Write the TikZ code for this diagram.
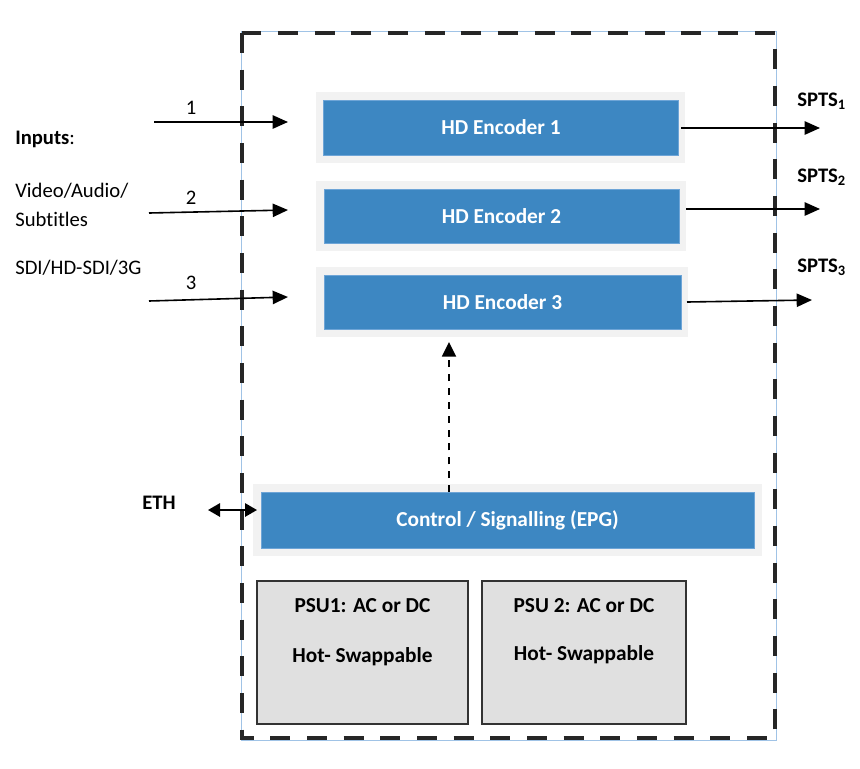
\documentclass[tikz,border=0pt]{standalone}
\usepackage{fontspec}
\setmainfont{Carlito}[Ligatures=NoCommon]
\usetikzlibrary{arrows.meta}
\definecolor{encblue}{RGB}{61,135,194}
\definecolor{encedge}{RGB}{110,165,215}
\definecolor{framegray}{RGB}{242,242,242}
\definecolor{psugray}{RGB}{224,224,224}
\definecolor{thinblue}{RGB}{160,195,230}
\begin{document}
\begin{tikzpicture}[x=0.75pt,y=-0.75pt,
  fnt/.style={font=\fontsize{15.5}{18}\selectfont},
  framebox/.style={fill=framegray,draw=none,inner sep=0pt},
  bluebox/.style={fill=encblue,draw=encedge,line width=0.6pt,inner sep=0pt,text=white,
     font=\fontsize{16}{19}\selectfont\bfseries},
  psubox/.style={fill=psugray,draw=black!80,line width=1.1pt,inner sep=0pt},
  psutxt/.style={font=\fontsize{16}{19}\selectfont\bfseries,inner sep=0pt},
  lbl/.style={fnt,inner sep=0pt},
  sarrow/.style={line width=1.2pt,-{Triangle[length=11.5pt,width=10pt]}},
  darrow/.style={line width=1.5pt,{Triangle[length=9pt,width=10pt]}-{Triangle[length=9pt,width=10pt]}},
  ctrlarrow/.style={line width=1.4pt,dash pattern=on 5.2pt off 5.2pt,-{Triangle[length=11pt,width=10.5pt]}},
  outerdash/.style={line width=3pt,dash pattern=on 15pt off 12.5pt,black!85},
]
\useasboundingbox (0,0) rectangle (860,768);
% enclosure
\draw[thinblue,line width=0.6pt] (241,31) rectangle (776,740);
\draw[outerdash] (242,33) rectangle (775,738);

% encoders
\node[framebox,minimum width=276.75pt,minimum height=53.25pt] (f1) at (500.5,127.5) {};
\node[bluebox,minimum width=266.25pt,minimum height=41.25pt] (e1) at (501,127.5) {HD Encoder 1};
\node[framebox,minimum width=277.5pt,minimum height=52.5pt] (f2) at (501,216) {};
\node[bluebox,minimum width=266.25pt,minimum height=40.5pt] (e2) at (501.5,216) {HD Encoder 2};
\node[framebox,minimum width=279pt,minimum height=52.5pt] (f3) at (502,302) {};
\node[bluebox,minimum width=267.75pt,minimum height=40.5pt] (e3) at (502.5,302) {HD Encoder 3};

% control
\node[framebox,minimum width=381.75pt,minimum height=54pt] (fc) at (507.5,520) {};
\node[bluebox,minimum width=369.75pt,minimum height=42pt] (ctrl) at (507.5,520) {Control / Signalling (EPG)};

% PSUs
\node[psubox,minimum width=158.25pt,minimum height=107.25pt] (psu1) at (362.5,652.5) {};
\node[psubox,minimum width=153pt,minimum height=107.25pt] (psu2) at (584,652.5) {};
\node[psutxt] (p1a) at (362.5,606) {PSU1: AC or DC};
\node[psutxt] (p1b) at (362.5,657) {Hot- Swappable};
\node[psutxt] (p2a) at (584,606) {PSU 2: AC or DC};
\node[psutxt] (p2b) at (584,655) {Hot- Swappable};

% left labels
\node[lbl,anchor=west] (inp) at (15,139) {\textbf{Inputs}:};
\node[lbl,anchor=west] (va) at (15,191) {Video/Audio/};
\node[lbl,anchor=west] (sub) at (15,219) {Subtitles};
\node[lbl,anchor=west] (sdi) at (15,268) {SDI/HD-SDI/3G};
\node[lbl] (n1) at (191,108) {1};
\node[lbl] (n2) at (191,198) {2};
\node[lbl] (n3) at (191,283) {3};

% input arrows
\coordinate (i1s) at (154,122); \coordinate (i1e) at (288,122);
\coordinate (i2s) at (149,213); \coordinate (i2e) at (288,210);
\coordinate (i3s) at (149,301); \coordinate (i3e) at (288,297);
\draw[sarrow] (i1s) -- (i1e);
\draw[sarrow] (i2s) -- (i2e);
\draw[sarrow] (i3s) -- (i3e);

% output arrows
\coordinate (o1s) at (681,128); \coordinate (o1e) at (820,128);
\coordinate (o2s) at (686,209); \coordinate (o2e) at (820,209);
\coordinate (o3s) at (687,302); \coordinate (o3e) at (812,300);
\draw[sarrow] (o1s) -- (o1e);
\draw[sarrow] (o2s) -- (o2e);
\draw[sarrow] (o3s) -- (o3e);
\node[lbl,anchor=west,font=\fontsize{15.5}{18}\selectfont\bfseries] (s1) at (797,101) {SPTS\textsubscript{1}};
\node[lbl,anchor=west,font=\fontsize{15.5}{18}\selectfont\bfseries] (s2) at (797,177) {SPTS\textsubscript{2}};
\node[lbl,anchor=west,font=\fontsize{15.5}{18}\selectfont\bfseries] (s3) at (797,267) {SPTS\textsubscript{3}};

% control arrow
\coordinate (ca) at (449,492);
\coordinate (cb) at (449,342);
\draw[ctrlarrow] (ca) -- (cb);

% ETH
\node[lbl,font=\fontsize{15.5}{18}\selectfont\bfseries] (eth) at (159,503) {ETH};
\coordinate (ethl) at (208,510);
\coordinate (ethr) at (257,510);
\draw[darrow] (ethl) -- (ethr);
\end{tikzpicture}
\end{document}
